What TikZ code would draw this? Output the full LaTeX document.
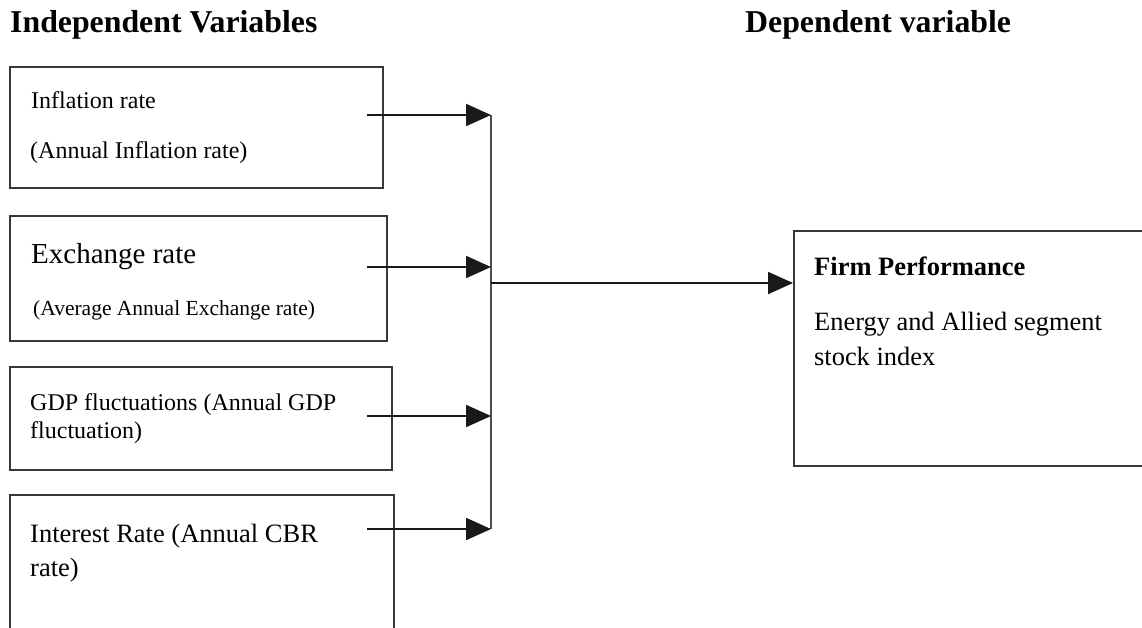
\documentclass[tikz,border=0pt]{standalone}
\usepackage{fontspec}
\setmainfont{Liberation Serif}
\usetikzlibrary{arrows.meta}
\begin{document}
\begin{tikzpicture}[x=1pt,y=-1pt,
  box/.style={draw=black!78, line width=1.5pt, minimum width=#1, anchor=north west, inner sep=0pt},
  lbl/.style={anchor=base west, inner sep=0pt},
  arr/.style={line width=2pt, draw=black!90, -{Triangle[length=25pt,width=22pt]}},
  bus/.style={line width=2pt, draw=black!70}]
\useasboundingbox (0,0) rectangle (1142,627);
\clip (0,0) rectangle (1142,627);
% titles
\node[lbl, font=\fontsize{31.8}{36}\selectfont\bfseries] (t1) at (10,32) {Independent Variables};
\node[lbl, font=\fontsize{31.8}{36}\selectfont\bfseries] (t2) at (745,32) {Dependent variable};
% boxes
\node[box=373pt, minimum height=121pt] (b1) at (9,66) {};
\node[box=377pt, minimum height=125pt] (b2) at (9,215) {};
\node[box=382pt, minimum height=103pt] (b3) at (9,366) {};
\node[box=384pt, minimum height=150pt] (b4) at (9,494) {};
\node[box=400pt, minimum height=235pt] (fp) at (793,230) {};
% texts
\node[lbl, font=\fontsize{24}{28}\selectfont] (x1a) at (31,108) {Inflation rate};
\node[lbl, font=\fontsize{24}{28}\selectfont] (x1b) at (30,158) {(Annual Inflation rate)};
\node[lbl, font=\fontsize{29}{34}\selectfont] (x2a) at (31,263) {Exchange rate};
\node[lbl, font=\fontsize{21.5}{25}\selectfont] (x2b) at (33,315) {(Average Annual Exchange rate)};
\node[lbl, font=\fontsize{24}{28}\selectfont] (x3a) at (30,410) {GDP fluctuations (Annual GDP};
\node[lbl, font=\fontsize{24}{28}\selectfont] (x3b) at (30,438) {fluctuation)};
\node[lbl, font=\fontsize{26.5}{32}\selectfont] (x4a) at (30,542) {Interest Rate (Annual CBR};
\node[lbl, font=\fontsize{26.5}{32}\selectfont] (x4b) at (30,576) {rate)};
\node[lbl, font=\fontsize{26.5}{32}\selectfont\bfseries] (y1) at (814,275) {Firm Performance};
\node[lbl, font=\fontsize{26.4}{32}\selectfont] (y2) at (814,330) {Energy and Allied segment};
\node[lbl, font=\fontsize{26.4}{32}\selectfont] (y3) at (814,365) {stock index};
% connector coordinates
\coordinate (s1) at (367,115); \coordinate (j1) at (491,115);
\coordinate (s2) at (367,267); \coordinate (j2) at (491,267);
\coordinate (s3) at (367,416); \coordinate (j3) at (491,416);
\coordinate (s4) at (367,529); \coordinate (j4) at (491,529);
\coordinate (jm) at (491,283);
% connectors
\draw[bus] (j1) -- (j4);
\draw[arr] (s1) -- (j1);
\draw[arr] (s2) -- (j2);
\draw[arr] (s3) -- (j3);
\draw[arr] (s4) -- (j4);
\draw[arr] (jm) -- (fp.west |- jm);
\end{tikzpicture}
\end{document}
